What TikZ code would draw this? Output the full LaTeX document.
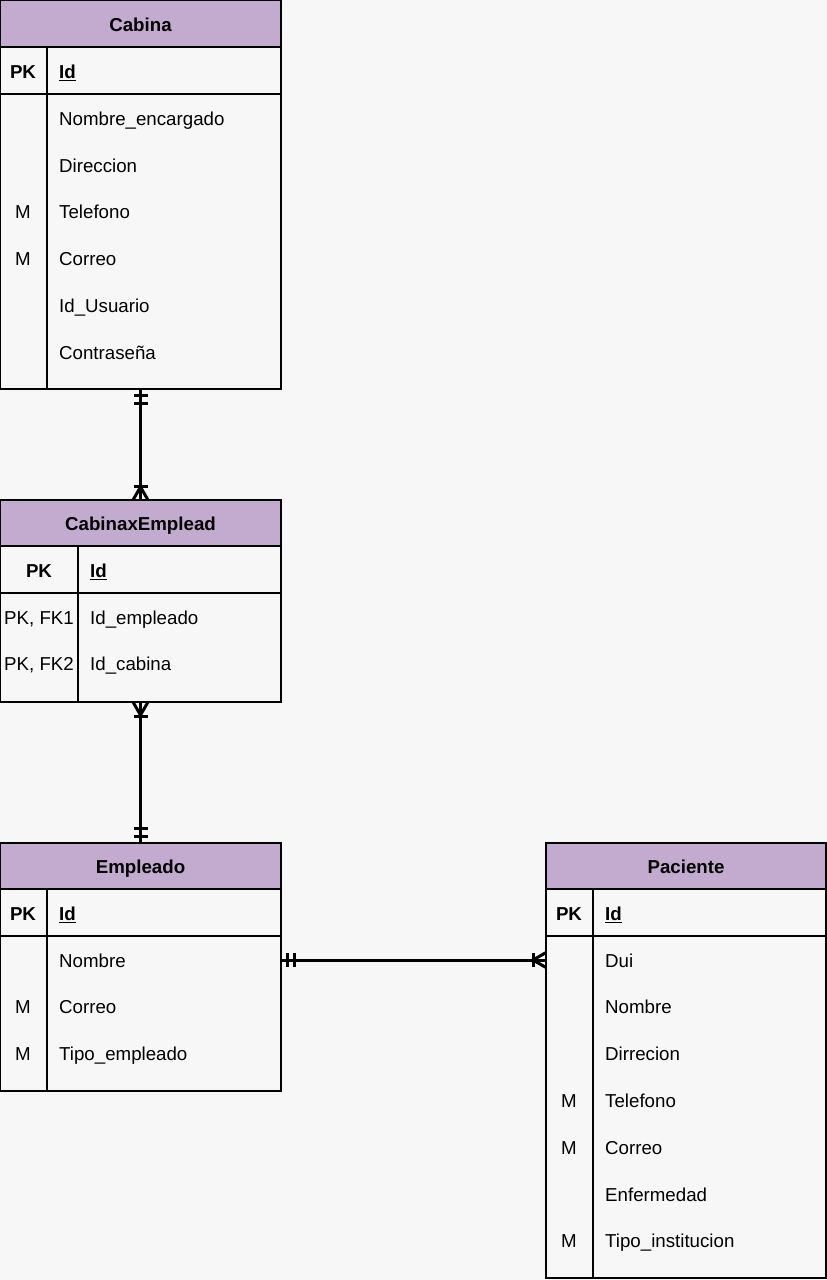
\documentclass[tikz,border=0pt]{standalone}
\usepackage{fontspec}
\setmainfont{Liberation Sans}
\usetikzlibrary{calc}
\definecolor{paper}{HTML}{F7F7F7}
\definecolor{headfill}{HTML}{C3ABD0}

\tikzset{
  frame/.style={draw=black, line width=1.5pt, inner sep=0pt, outer sep=0pt, anchor=north west},
  head/.style={frame, fill=headfill, text height=15.4pt, text depth=0pt,
    font=\fontsize{18.7}{22}\selectfont\bfseries},
  rule/.style={line width=1.5pt},
  field/.style={inner sep=0pt, anchor=west, yshift=-1pt, text height=13.4pt, text depth=0pt,
    font=\fontsize{18.7}{22}\selectfont},
  keyfield/.style={field, anchor=center},
  boldkey/.style={keyfield, font=\fontsize{18.7}{22}\selectfont\bfseries},
  pkname/.style={field, font=\fontsize{18.7}{22}\selectfont\bfseries},
  link/.style={line width=3pt},
  tick/.style={line width=3pt},
}

\begin{document}
\begin{tikzpicture}[x=1pt, y=-1pt]
  \fill[paper] (0,0) rectangle (827,1280);
  \useasboundingbox (0,0) rectangle (827,1280);

  % ---------- Cabina ----------
  \node[frame, minimum width=281pt, minimum height=389pt] (cab) at (0,0) {};
  \node[head, minimum width=281pt, minimum height=47pt] (cabH) at (0,0) {Cabina};
  \draw[rule] (0,94) -- (281,94);
  \draw[rule] (47,47) -- (47,389);
  \node[boldkey] (cabPK) at (23,71) {PK};
  \node[pkname] (cabId) at (59,71) {\underline{Id}};
  \node[field] (cab1) at (59,118) {Nombre\_encargado};
  \node[field] (cab2) at (59,165) {Direccion};
  \node[keyfield] (cab3k) at (23,211) {M};
  \node[field] (cab3) at (59,211) {Telefono};
  \node[keyfield] (cab4k) at (23,258) {M};
  \node[field] (cab4) at (59,258) {Correo};
  \node[field] (cab5) at (59,305) {Id\_Usuario};
  \node[field] (cab6) at (59,352) {Contraseña};

  % ---------- CabinaxEmplead ----------
  \node[frame, minimum width=281pt, minimum height=202pt] (cxe) at (0,500) {};
  \node[head, minimum width=281pt, minimum height=46pt] (cxeH) at (0,500) {CabinaxEmplead};
  \draw[rule] (0,593) -- (281,593);
  \draw[rule] (78,546) -- (78,702);
  \node[boldkey] (cxePK) at (39,570) {PK};
  \node[pkname] (cxeId) at (90,570) {\underline{Id}};
  \node[keyfield] (cxe1k) at (39,617) {PK, FK1};
  \node[field] (cxe1) at (90,617) {Id\_empleado};
  \node[keyfield] (cxe2k) at (39,663) {PK, FK2};
  \node[field] (cxe2) at (90,663) {Id\_cabina};

  % ---------- Empleado ----------
  \node[frame, minimum width=281pt, minimum height=248pt] (emp) at (0,843) {};
  \node[head, minimum width=281pt, minimum height=46pt] (empH) at (0,843) {Empleado};
  \draw[rule] (0,936) -- (281,936);
  \draw[rule] (47,889) -- (47,1091);
  \node[boldkey] (empPK) at (23,913) {PK};
  \node[pkname] (empId) at (59,913) {\underline{Id}};
  \node[field] (emp1) at (59,960) {Nombre};
  \node[keyfield] (emp2k) at (23,1006) {M};
  \node[field] (emp2) at (59,1006) {Correo};
  \node[keyfield] (emp3k) at (23,1053) {M};
  \node[field] (emp3) at (59,1053) {Tipo\_empleado};

  % ---------- Paciente ----------
  \node[frame, minimum width=280pt, minimum height=435pt] (pac) at (546,843) {};
  \node[head, minimum width=280pt, minimum height=46pt] (pacH) at (546,843) {Paciente};
  \draw[rule] (546,936) -- (826,936);
  \draw[rule] (593,889) -- (593,1278);
  \node[boldkey] (pacPK) at (569,913) {PK};
  \node[pkname] (pacId) at (605,913) {\underline{Id}};
  \node[field] (pac1) at (605,960) {Dui};
  \node[field] (pac2) at (605,1006) {Nombre};
  \node[field] (pac3) at (605,1053) {Dirrecion};
  \node[keyfield] (pac4k) at (569,1100) {M};
  \node[field] (pac4) at (605,1100) {Telefono};
  \node[keyfield] (pac5k) at (569,1147) {M};
  \node[field] (pac5) at (605,1147) {Correo};
  \node[field] (pac6) at (605,1194) {Enfermedad};
  \node[keyfield] (pac7k) at (569,1240) {M};
  \node[field] (pac7) at (605,1240) {Tipo\_institucion};

  % ---------- Relationships ----------
  % Cabina (one and only one) -- CabinaxEmplead (one or many)
  \draw[link] (cab.south) -- (cxe.north);
  \draw[tick] ($(cab.south)+(-7,6)$) -- ($(cab.south)+(7,6)$);
  \draw[tick] ($(cab.south)+(-7,14)$) -- ($(cab.south)+(7,14)$);
  \draw[tick] ($(cxe.north)+(-7,-14)$) -- ($(cxe.north)+(7,-14)$);
  \draw[tick, line join=miter] ($(cxe.north)+(-7.5,0)$) -- ($(cxe.north)+(0,-13)$) -- ($(cxe.north)+(7.5,0)$);

  % CabinaxEmplead (one or many) -- Empleado (one and only one)
  \draw[link] (cxe.south) -- (emp.north);
  \draw[tick, line join=miter] ($(cxe.south)+(-7.5,0)$) -- ($(cxe.south)+(0,13)$) -- ($(cxe.south)+(7.5,0)$);
  \draw[tick] ($(cxe.south)+(-7,14)$) -- ($(cxe.south)+(7,14)$);
  \draw[tick] ($(emp.north)+(-7,-15)$) -- ($(emp.north)+(7,-15)$);
  \draw[tick] ($(emp.north)+(-7,-7)$) -- ($(emp.north)+(7,-7)$);

  % Empleado (one and only one) -- Paciente (one or many)
  \coordinate (empR) at ($(emp.north east)+(0,117)$);
  \coordinate (pacL) at ($(pac.north west)+(0,117)$);
  \draw[link] (empR) -- (pacL);
  \draw[tick] ($(empR)+(6,-7)$) -- ($(empR)+(6,7)$);
  \draw[tick] ($(empR)+(13,-7)$) -- ($(empR)+(13,7)$);
  \draw[tick] ($(pacL)+(-13,-7)$) -- ($(pacL)+(-13,7)$);
  \draw[tick, line join=miter] ($(pacL)+(0,-7.5)$) -- ($(pacL)+(-13,0)$) -- ($(pacL)+(0,7.5)$);
\end{tikzpicture}
\end{document}
